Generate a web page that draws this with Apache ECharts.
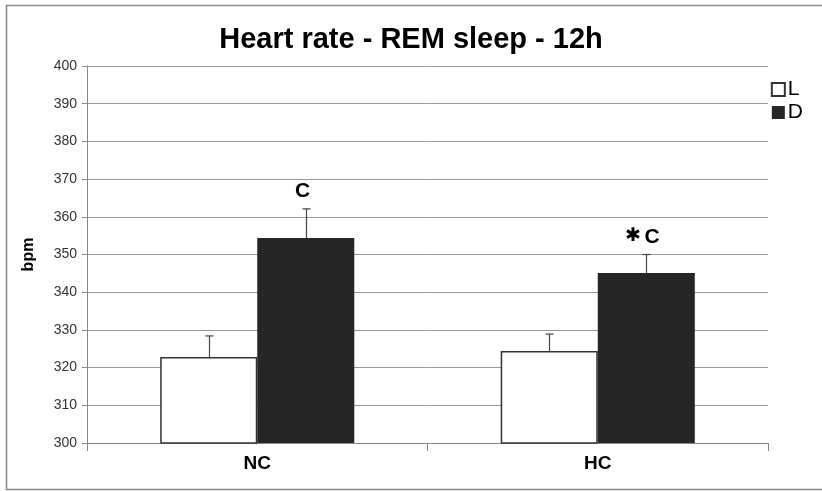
<!DOCTYPE html>
<html>
<head>
<meta charset="utf-8">
<script src="https://cdn.jsdelivr.net/npm/echarts@6/dist/echarts.min.js"></script>
<style>
  html, body { margin: 0; padding: 0; background: #fff; }
  #chart { width: 822px; height: 491px; }
</style>
</head>
<body>
<div id="chart"></div>
<script>
// Heart rate during REM sleep, 12h recordings
const categories = ['NC', 'HC'];
const seriesNames = ['L', 'D'];
const meanL = [322.8, 324.4];
const meanD = [354.4, 345.1];
const errL = [5.6, 4.5];
const errD = [7.7, 4.9];
const starD = ['', '*'];
const letterD = ['C', 'C'];
const yTicks = [300, 310, 320, 330, 340, 350, 360, 370, 380, 390, 400];

const CAT_GAP = 0.43;
const FONT = '"Liberation Sans", Arial, sans-serif';

// Upper error whisker (and optional significance mark) above each bar
function errorRenderer(means, errs, side, stars, letters) {
  return function (params, api) {
    const i = params.dataIndex;
    const catW = api.size([1, 0])[0];
    const barW = catW * (1 - CAT_GAP) / 2;
    const base = api.coord([i, means[i]]);
    const top = api.coord([i, means[i] + errs[i]]);
    const x = Math.round(base[0] + side * barW / 2) + 0.5;
    const children = [
      { type: 'line', shape: { x1: x, y1: base[1], x2: x, y2: top[1] },
        style: { stroke: '#444', lineWidth: 1.2 } },
      { type: 'line', shape: { x1: x - 4, y1: top[1], x2: x + 4, y2: top[1] },
        style: { stroke: '#444', lineWidth: 1.2 } }
    ];
    if (letters && letters[i]) {
      const hasStar = stars && stars[i];
      children.push({
        type: 'text',
        style: {
          x: x - 4, y: top[1] - 7,
          text: hasStar ? '{s|✱} {c|' + letters[i] + '}' : '{c|' + letters[i] + '}',
          align: 'center', verticalAlign: 'bottom',
          rich: {
            s: { fontFamily: '"DejaVu Sans", sans-serif', fontSize: 19, fontWeight: 'bold', fill: '#000', padding: [0, 0, 1, 0] },
            c: { fontFamily: FONT, fontSize: 21, fontWeight: 'bold', fill: '#000' }
          }
        }
      });
    }
    return { type: 'group', children: children };
  };
}

const chart = echarts.init(document.getElementById('chart'), null, { renderer: 'canvas' });
chart.setOption({
  animation: false,
  backgroundColor: '#fff',
  title: {
    text: 'Heart rate - REM sleep - 12h',
    left: 'center', top: 20,
    textStyle: { fontFamily: FONT, fontSize: 29, fontWeight: 'bold', color: '#000' }
  },
  legend: {
    orient: 'vertical', right: 14, top: 74,
    itemWidth: 13, itemHeight: 13, itemGap: 2,
    icon: 'rect',
    data: seriesNames,
    textStyle: { fontFamily: FONT, fontSize: 21, color: '#000', padding: [0, 0, 0, -2] }
  },
  graphic: [{
    type: 'rect', silent: true, z: -1,
    shape: { x: 6.5, y: 5.5, width: 830, height: 484 },
    style: { fill: 'none', stroke: '#888', lineWidth: 1.5 }
  }],
  grid: { left: 87, right: 54, top: 66, bottom: 48 },
  xAxis: {
    type: 'category',
    data: categories,
    axisLine: { lineStyle: { color: '#888', width: 1 } },
    axisTick: { show: true, length: 8, lineStyle: { color: '#888' } },
    axisLabel: { fontFamily: FONT, fontSize: 19, fontWeight: 'bold', color: '#000', margin: 11 }
  },
  yAxis: {
    type: 'value',
    min: yTicks[0], max: yTicks[yTicks.length - 1], interval: 10,
    name: 'bpm', nameLocation: 'middle', nameGap: 50, nameRotate: 90,
    nameTextStyle: { fontFamily: FONT, fontSize: 16, fontWeight: 'bold', color: '#000' },
    axisLine: { show: true, lineStyle: { color: '#888' } },
    axisTick: { show: true, length: 5, lineStyle: { color: '#888' } },
    axisLabel: { fontFamily: FONT, fontSize: 14, color: '#333', margin: 10 },
    splitLine: { lineStyle: { color: '#999', width: 1 } }
  },
  series: [
    {
      name: 'L', type: 'bar', data: meanL,
      barGap: '0%', barCategoryGap: (CAT_GAP * 100) + '%',
      itemStyle: { color: '#fff', borderColor: '#333', borderWidth: 1.5 }
    },
    {
      name: 'D', type: 'bar', data: meanD,
      barGap: '0%', barCategoryGap: (CAT_GAP * 100) + '%',
      itemStyle: { color: '#262626', borderColor: '#262626', borderWidth: 0 }
    },
    {
      type: 'custom', silent: true, z: 5,
      data: meanL.map((v, i) => [i, v]),
      renderItem: errorRenderer(meanL, errL, -1, null, null)
    },
    {
      type: 'custom', silent: true, z: 5,
      data: meanD.map((v, i) => [i, v]),
      renderItem: errorRenderer(meanD, errD, 1, starD, letterD)
    }
  ]
});
</script>
</body>
</html>
